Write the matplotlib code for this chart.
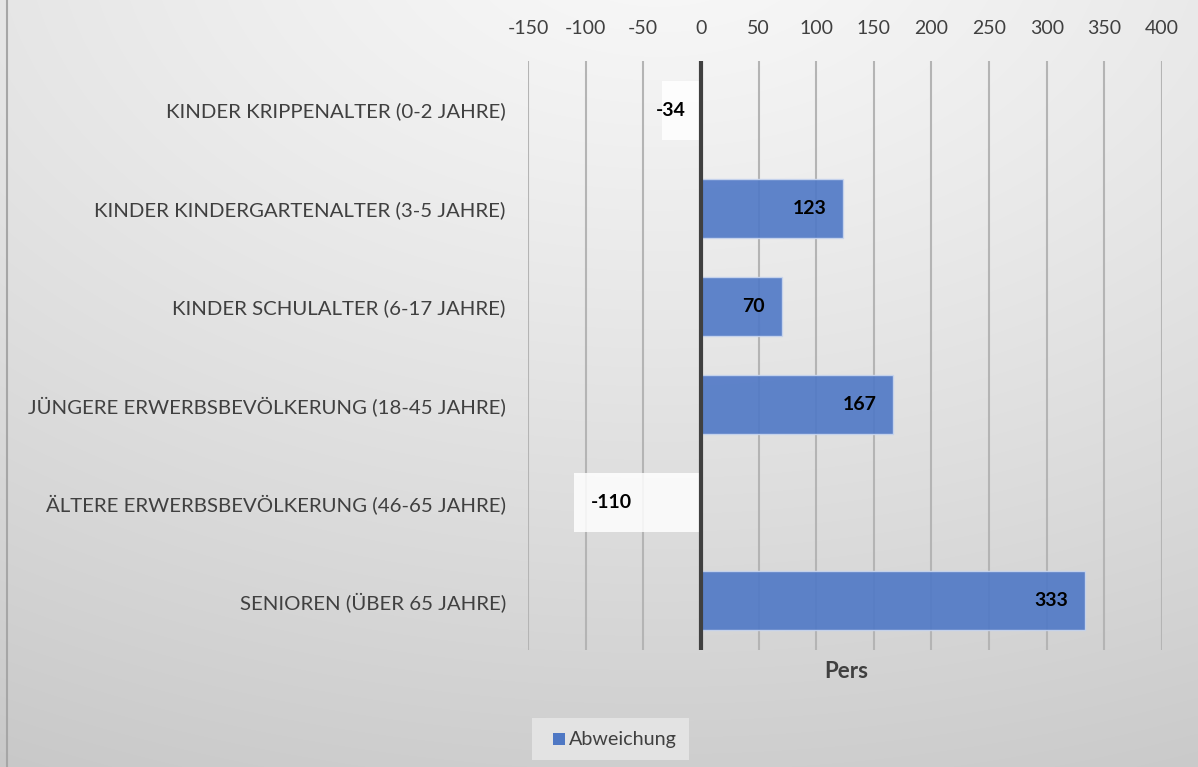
import numpy as np
import matplotlib
matplotlib.use("Agg")
import matplotlib.pyplot as plt
from matplotlib.patches import Rectangle

categories = [
    "KINDER KRIPPENALTER (0-2 JAHRE)",
    "KINDER KINDERGARTENALTER (3-5 JAHRE)",
    "KINDER SCHULALTER (6-17 JAHRE)",
    "JÜNGERE ERWERBSBEVÖLKERUNG (18-45 JAHRE)",
    "ÄLTERE ERWERBSBEVÖLKERUNG (46-65 JAHRE)",
    "SENIOREN (ÜBER 65 JAHRE)",
]
values = [-34, 123, 70, 167, -110, 333]
xticks = list(range(-150, 401, 50))
series_name = "Abweichung"
xlabel = "Pers"

plt.rcParams['font.family'] = ['Lato', 'DejaVu Sans']

W, H = 1198, 767
fig = plt.figure(figsize=(W / 100, H / 100), dpi=100)

# background gradient
bg = fig.add_axes([0, 0, 1, 1], zorder=-10)
yy, xx = np.mgrid[0:H, 0:W]
cx, cy = 0.55 * W, -0.1 * H
d = np.sqrt(((xx - cx) / W) ** 2 + ((yy - cy) / H) ** 2)
d = d / d.max()
val = 0.975 - 0.19 * d ** 1.2
img = np.dstack([val, val, val])
bg.imshow(img, aspect='auto', extent=[0, W, H, 0])
bg.set_xlim(0, W)
bg.set_ylim(H, 0)
bg.axis('off')
bg.plot([7, 7], [0, H], color='#a6a6a6', lw=1.5)
# legend box
bg.add_patch(Rectangle((532, 718), 157, 42, facecolor='#e6e6e6', edgecolor='none', alpha=0.9))

# plot area
left, right = 528 / W, 1162 / W
top, bottom = 1 - 61 / H, 1 - 650 / H
ax = fig.add_axes([left, bottom, right - left, top - bottom])
ax.patch.set_alpha(0)

y = np.arange(len(categories))
for yi, v in zip(y, values):
    if v < 0:
        ax.barh(yi, v, height=0.6, color='white', alpha=0.85, edgecolor='none', zorder=3)
    else:
        ax.barh(yi, v, height=0.6, color='#4f78c6', alpha=0.9, edgecolor='#c9d6ee',
                linewidth=1.0, zorder=3)

ax.set_xlim(-150, 400)
ax.set_ylim(len(categories) - 0.5, -0.5)
ax.set_xticks(xticks)
ax.set_xticklabels([str(t) for t in xticks])
ax.xaxis.tick_top()
ax.tick_params(axis='x', length=0, pad=17, labelsize=14, labelcolor='#404040')
ax.set_yticks(y)
ax.set_yticklabels(categories)
ax.tick_params(axis='y', length=0, pad=16, labelsize=14.7, labelcolor='#404040')
for s in ax.spines.values():
    s.set_visible(False)
ax.grid(axis='x', color='#b4b4b4', lw=1.5, zorder=1)
ax.set_axisbelow(True)
ax.axvline(0, color='#404040', lw=3, zorder=5)

fig.canvas.draw()
for yi, v in zip(y, values):
    if v < 0:
        t = ax.annotate(str(v), (v, yi), xytext=(12, 0), textcoords='offset points',
                        ha='left', va='center', fontsize=14, fontweight='bold', color='black', zorder=6)
        # if label doesn't fit inside the bar, right-align next to the axis
        bb = t.get_window_extent(fig.canvas.get_renderer())
        x0 = ax.transData.transform((0, 0))[0]
        if bb.x1 > x0 - 4:
            t.remove()
            ax.annotate(str(v), (0, yi), xytext=(-11, 0), textcoords='offset points',
                        ha='right', va='center', fontsize=14, fontweight='bold', color='black', zorder=6)
    else:
        ax.annotate(str(v), (v, yi), xytext=(-12, 0), textcoords='offset points',
                    ha='right', va='center', fontsize=14, fontweight='bold', color='black', zorder=6)

fig.text(846 / W, 1 - 671 / H, xlabel, ha='center', va='center', fontsize=16,
         fontweight='bold', color='#404040')

# legend
bg.add_patch(Rectangle((553, 733), 12, 12, facecolor='#4f78c4', edgecolor='none'))
bg.text(569, 739.5, series_name, ha='left', va='center', fontsize=14.2, color='#404040')

fig.savefig('out.png', dpi=100)
